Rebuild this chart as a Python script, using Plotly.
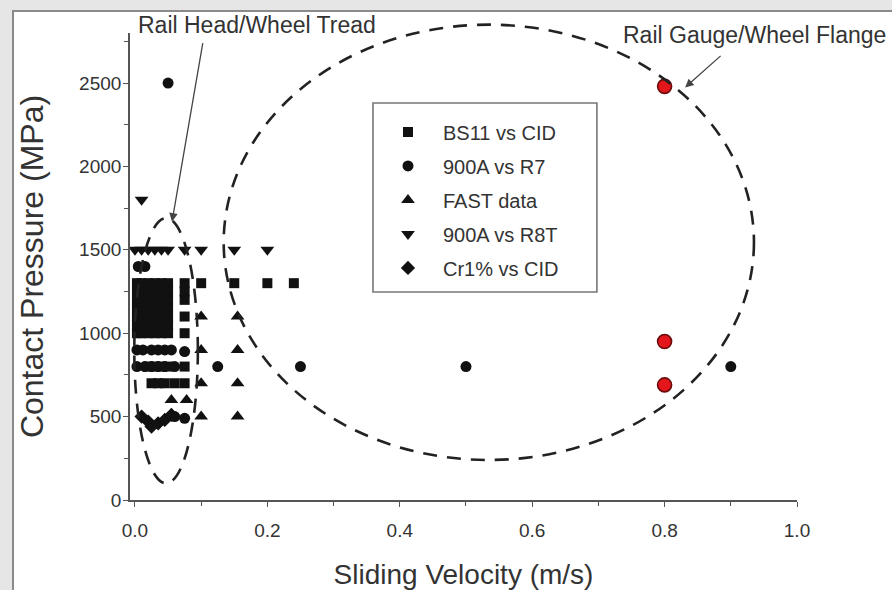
import plotly.graph_objects as go

# ---------------- data ----------------
bs11_v = [0.003, 0.01, 0.02, 0.03, 0.04, 0.05, 0.075, 0.10, 0.15, 0.20, 0.24,
          0.003, 0.01, 0.02, 0.03, 0.04, 0.05, 0.075,
          0.003, 0.01, 0.02, 0.03, 0.04, 0.05, 0.075,
          0.003, 0.01, 0.02, 0.03, 0.04, 0.05,
          0.003, 0.01, 0.02, 0.03, 0.04, 0.05, 0.075,
          0.003, 0.01, 0.02, 0.03, 0.04, 0.05,
          0.003, 0.01, 0.02, 0.03, 0.04, 0.05, 0.075,
          0.02, 0.03, 0.04, 0.05, 0.075,
          0.025, 0.035, 0.045, 0.06, 0.075]
bs11_p = [1300, 1300, 1300, 1300, 1300, 1300, 1300, 1300, 1300, 1300, 1300,
          1250, 1250, 1250, 1250, 1250, 1250, 1250,
          1200, 1200, 1200, 1200, 1200, 1200, 1200,
          1150, 1150, 1150, 1150, 1150, 1150,
          1100, 1100, 1100, 1100, 1100, 1100, 1100,
          1050, 1050, 1050, 1050, 1050, 1050,
          1000, 1000, 1000, 1000, 1000, 1000, 1000,
          800, 800, 800, 800, 800,
          700, 700, 700, 700, 700]

r7_v = [0.05, 0.125, 0.25, 0.50, 0.90,
        0.005, 0.015,
        0.003, 0.012, 0.025, 0.035, 0.045, 0.055, 0.075,
        0.003, 0.015, 0.025, 0.035, 0.045, 0.06,
        0.06, 0.075]
r7_p = [2500, 800, 800, 800, 800,
        1400, 1400,
        900, 900, 900, 900, 900, 900, 890,
        800, 800, 800, 800, 800, 800,
        500, 490]

fast_v = [0.10, 0.155, 0.10, 0.155, 0.10, 0.155, 0.10, 0.155, 0.055, 0.078]
fast_p = [1100, 1100, 900, 900, 700, 700, 500, 500, 600, 600]

r8t_v = [0.01, 0.0, 0.01, 0.02, 0.03, 0.04, 0.05, 0.075, 0.10, 0.15, 0.20]
r8t_p = [1800, 1500, 1500, 1500, 1500, 1500, 1500, 1500, 1500, 1500, 1500]

cr1_v = [0.01, 0.02, 0.025, 0.035, 0.045, 0.055]
cr1_p = [500, 470, 440, 460, 480, 510]

flange_v = [0.80, 0.80, 0.80]
flange_p = [2480, 950, 690]

series_names = ["BS11 vs CID", "900A vs R7", "FAST data", "900A vs R8T", "Cr1% vs CID"]

x_ticks = [0.0, 0.2, 0.4, 0.6, 0.8, 1.0]
y_ticks = [0, 500, 1000, 1500, 2000, 2500]

# ellipse regions (data units): (x0, x1, y0, y1)
tread_ellipse = (-0.001, 0.095, 100, 1690)
flange_ellipse = (0.134, 0.935, 240, 2850)

X_RANGE = [-0.0075, 1.0]
Y_RANGE = [0, 2800]

# ---------------- figure ----------------
FONT = "Liberation Sans, Arial, Helvetica, sans-serif"
INK = "#111111"
TXT = "#333333"

fig = go.Figure()

def add(v, p, name, symbol, size):
    fig.add_trace(go.Scatter(
        x=v, y=p, mode="markers", name=name, legendgroup=name,
        marker=dict(symbol=symbol, size=size, color=INK, line=dict(width=0)),
        cliponaxis=False,
    ))

add(bs11_v, bs11_p, series_names[0], "square", 10)
add(r7_v, r7_p, series_names[1], "circle", 11)
add(fast_v, fast_p, series_names[2], "triangle-up", 12)
add(r8t_v, r8t_p, series_names[3], "triangle-down", 12)
add(cr1_v, cr1_p, series_names[4], "diamond", 11)

fig.add_trace(go.Scatter(
    x=flange_v, y=flange_p, mode="markers", showlegend=False,
    marker=dict(symbol="circle", size=14, color="#e3161c",
                line=dict(width=1.6, color="#6b0c0c")),
    cliponaxis=False,
))

def to_paper_x(v):
    return (v - X_RANGE[0]) / (X_RANGE[1] - X_RANGE[0])

def to_paper_y(p):
    return (p - Y_RANGE[0]) / (Y_RANGE[1] - Y_RANGE[0])

shapes = []
# white inner panel with gray frame
shapes.append(dict(type="rect", xref="paper", yref="paper",
                   x0=-0.1754, x1=1.16, y0=-0.22, y1=1.047,
                   fillcolor="white", line=dict(color="#8a8a8a", width=2),
                   layer="below"))
# legend frame
shapes.append(dict(type="rect", xref="paper", yref="paper",
                   x0=0.3643, x1=0.700, y0=0.4454, y1=0.850,
                   fillcolor="rgba(0,0,0,0)", line=dict(color="#777777", width=1.6)))
for (ex0, ex1, ey0, ey1) in (tread_ellipse, flange_ellipse):
    shapes.append(dict(type="circle", xref="paper", yref="paper",
                       x0=to_paper_x(ex0), x1=to_paper_x(ex1),
                       y0=to_paper_y(ey0), y1=to_paper_y(ey1),
                       line=dict(color="#222222", width=2.6, dash="14px,10px")))

annotations = [
    dict(text="Rail Head/Wheel Tread", x=0.19, y=1.017, xref="paper", yref="paper",
         xanchor="center", yanchor="middle",
         showarrow=False, font=dict(family=FONT, size=23, color=TXT)),
    dict(text="", x=0.056, y=1669, xref="x", yref="y", ax=31, ay=-180,
         showarrow=True, arrowhead=2, arrowsize=1.3, arrowwidth=1.3, arrowcolor="#444444"),
    dict(text="Rail Gauge/Wheel Flange", x=0.937, y=0.996, xref="paper", yref="paper",
         xanchor="center", yanchor="middle",
         showarrow=False, font=dict(family=FONT, size=23, color=TXT)),
    dict(text="", x=0.831, y=2473, xref="x", yref="y", ax=37, ay=-33,
         showarrow=True, arrowhead=2, arrowsize=1.3, arrowwidth=1.3, arrowcolor="#444444"),
]

axis_common = dict(
    showgrid=False, zeroline=False, showline=True, linecolor="#555555", linewidth=1.6,
    ticks="outside", ticklen=5, tickwidth=1.4, tickcolor="#555555",
    tickfont=dict(family=FONT, size=19, color=TXT),
    mirror=False, automargin=False,
)

fig.update_layout(
    width=892, height=590,
    margin=dict(l=130, r=95, t=33, b=90),
    paper_bgcolor="#e6e6e6", plot_bgcolor="white",
    font=dict(family=FONT, color=TXT),
    xaxis=dict(range=X_RANGE, tickvals=x_ticks, ticktext=[f"{t:.1f}" for t in x_ticks],
               minor=dict(dtick=0.1, ticks="outside", ticklen=4, tickcolor="#555555"),
               title=dict(text="Sliding Velocity (m/s)", font=dict(family=FONT, size=28, color=TXT),
                          standoff=26),
               ticklabelstandoff=7, **axis_common),
    yaxis=dict(range=Y_RANGE, tickvals=y_ticks,
               minor=dict(dtick=250, ticks="outside", ticklen=4, tickcolor="#555555"),
               title=dict(text="Contact Pressure (MPa)", font=dict(family=FONT, size=32, color=TXT),
                          standoff=26),
               ticklabelstandoff=-2, **axis_common),
    legend=dict(x=0.3643, y=0.83, xanchor="left", yanchor="top",
                bgcolor="rgba(0,0,0,0)", borderwidth=0,
                font=dict(family=FONT, size=20, color=TXT),
                itemwidth=60, tracegroupgap=5, traceorder="grouped"),
    shapes=shapes,
    annotations=annotations,
    showlegend=True,
)

fig.write_html("out.html", config={"displayModeBar": False},
               post_script="document.body.style.margin='0px';")
